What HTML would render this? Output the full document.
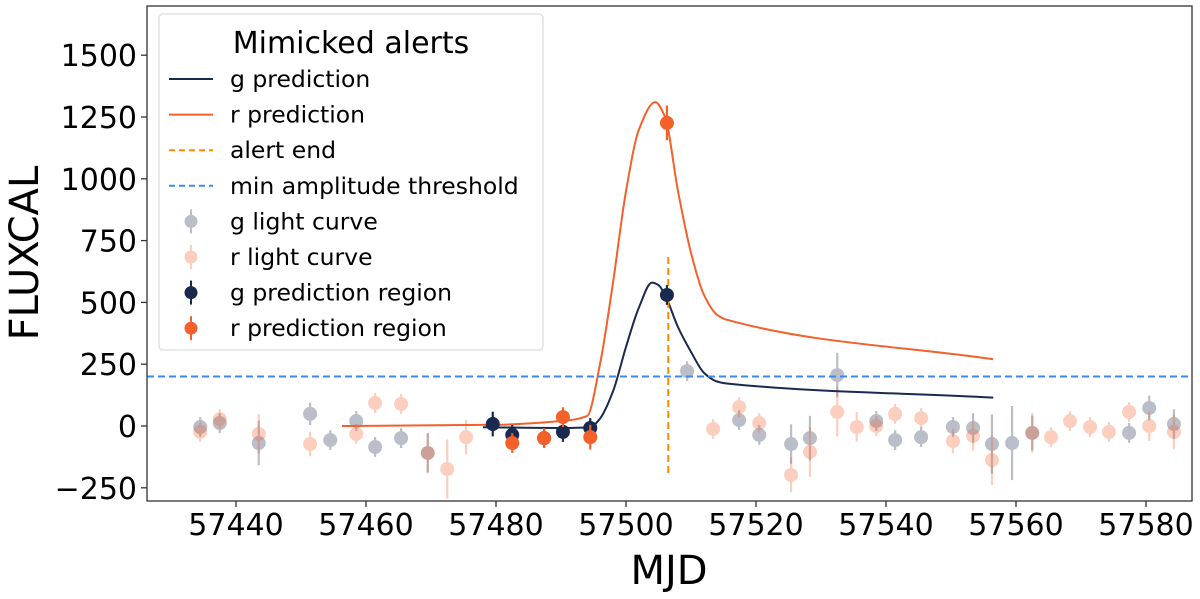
<!DOCTYPE html>
<html><head><meta charset="utf-8"><style>
body{margin:0;background:#fff;}
svg text{font-family:"DejaVu Sans","Liberation Sans",sans-serif;}
</style></head><body>
<svg id="chart" width="1200" height="594" xmlns="http://www.w3.org/2000/svg"></svg>
<script>
const xTicks=[57440,57460,57480,57500,57520,57540,57560,57580];
const yTicks=[-250,0,250,500,750,1000,1250,1500];
const gLcX=[57434.5,57437.5,57443.5,57451.4,57454.5,57458.5,57461.4,57465.4,57469.5,57509.4,57517.4,57520.5,57525.4,57528.3,57532.5,57538.5,57541.4,57545.4,57550.3,57553.4,57556.3,57559.4,57562.5,57577.4,57580.5,57584.3];
const gLcY=[-4,12,-69,49,-57,20,-85,-49,-109,222,24,-36,-73,-49,206,20,-57,-45,-4,-8,-73,-69,-28,-28,73,8];
const gLcE=[40,40,90,45,40,40,40,40,80,40,40,40,80,90,90,40,40,40,40,60,120,150,70,40,50,60];
const rLcX=[57434.5,57437.5,57443.5,57451.4,57458.5,57461.4,57465.4,57469.5,57472.5,57475.4,57513.4,57517.4,57520.5,57525.4,57528.3,57532.5,57535.5,57538.5,57541.4,57545.4,57550.3,57553.4,57556.3,57562.5,57565.4,57568.3,57571.4,57574.3,57577.4,57580.5,57584.3];
const rLcY=[-24,28,-32,-73,-32,93,89,-109,-174,-45,-12,77,12,-198,-105,57,-4,0,49,32,-61,-40,-138,-28,-45,20,-4,-24,57,0,-24];
const rLcE=[40,40,80,50,40,40,40,80,120,70,40,40,40,70,100,100,60,40,40,40,50,60,100,80,40,40,40,40,40,60,70];
const gPrX=[57479.5,57482.5,57487.4,57490.3,57494.5,57506.3];
const gPrY=[8,-36,-49,-24,-8,530];
const gPrE=[50,40,40,40,40,40];
const rPrX=[57482.5,57487.4,57490.3,57494.5,57506.3];
const rPrY=[-69,-49,36,-45,1226];
const rPrE=[40,40,40,50,70];
const rCurveX=[57456.3,57480,57490,57494,57496,57498,57500,57502,57504.5,57506,57508,57510,57512,57514,57515.5,57556.5];
const rCurveY=[0,5,20,40,250,580,950,1200,1310,1250,950,700,530,450,430,270];
const gCurveX=[57478,57490,57494.5,57496,57498,57500,57502,57504,57505,57506,57508,57510,57512,57514,57515.5,57556.5];
const gCurveY=[-5,-8,-5,30,140,320,480,580,570,530,400,300,215,180,172,115];
const threshold=200, alertEnd=57506.5, alertEndRange=[-190,700];

const L=147,R=1192,T=6,B=501;
const X=v=>236+(v-57440)*6.5;
const Y=v=>426-v*0.2472;
const svg=document.getElementById('chart');
const NS='http://www.w3.org/2000/svg';
function el(tag,attrs,parent){const e=document.createElementNS(NS,tag);for(const k in attrs)e.setAttribute(k,attrs[k]);(parent||svg).appendChild(e);return e;}
const G='#1a2a4e', O='#f4602a';

const clip=el('clipPath',{id:'pc'});el('rect',{x:L,y:T,width:R-L,height:B-T},clip);
const plot=el('g',{'clip-path':'url(#pc)'});



function pts(xs,ys,errs,col,op,name){
  for(let i=0;i<xs.length;i++){
    const g=el('g',{opacity:op},plot);
    
    
    const e=errs[i];
    el('line',{x1:X(xs[i]),x2:X(xs[i]),y1:Y(ys[i]-e),y2:Y(ys[i]+e),stroke:col,'stroke-width':2.2},g);
    el('circle',{cx:X(xs[i]),cy:Y(ys[i]),r:7,fill:col},g);
  }
}
pts(gLcX,gLcY,gLcE,G,0.3,'g-light-curve-point');
pts(rLcX,rLcY,rLcE,O,0.3,'r-light-curve-point');

function smooth(xs,ys){
  const n=xs.length, px=xs.map(X), py=ys.map(Y);
  const d=[],m=[];
  for(let i=0;i<n-1;i++)d.push((py[i+1]-py[i])/(px[i+1]-px[i]));
  m[0]=d[0];m[n-1]=d[n-2];
  for(let i=1;i<n-1;i++){
    if(d[i-1]*d[i]<=0)m[i]=0;
    else{const w1=2*(px[i+1]-px[i])+(px[i]-px[i-1]),w2=(px[i+1]-px[i])+2*(px[i]-px[i-1]);m[i]=(w1+w2)/(w1/d[i-1]+w2/d[i]);}
  }
  let s='M'+px[0]+','+py[0];
  for(let i=0;i<n-1;i++){
    const h=(px[i+1]-px[i])/3;
    s+=' C'+(px[i]+h)+','+(py[i]+m[i]*h)+' '+(px[i+1]-h)+','+(py[i+1]-m[i+1]*h)+' '+px[i+1]+','+py[i+1];
  }
  return s;
}
const rc=el('path',{d:smooth(rCurveX,rCurveY),fill:'none',stroke:O,'stroke-width':2},plot);


const gc=el('path',{d:smooth(gCurveX,gCurveY),fill:'none',stroke:G,'stroke-width':2},plot);



const th=el('line',{x1:L,x2:R,y1:Y(threshold),y2:Y(threshold),stroke:'#3a8af0','stroke-width':2,'stroke-dasharray':'7,4'},plot);


const ae=el('line',{x1:X(alertEnd),x2:X(alertEnd),y1:Y(alertEndRange[0]),y2:Y(alertEndRange[1]),stroke:'#ff8c00','stroke-width':2,'stroke-dasharray':'7,4'},plot);



pts(gPrX,gPrY,gPrE,G,1,'g-prediction-region-point');
pts(rPrX,rPrY,rPrE,O,1,'r-prediction-region-point');

const fr=el('rect',{x:L,y:T,width:R-L,height:B-T,fill:'none',stroke:'#333','stroke-width':1.3});


xTicks.forEach(t=>{
  el('line',{x1:X(t),x2:X(t),y1:B,y2:B+6,stroke:'#333','stroke-width':1.3});
  const tx=el('text',{x:X(t),y:B+34,'font-size':30,'text-anchor':'middle',fill:'#000'});
  tx.textContent=t;
  
  
});
yTicks.forEach(t=>{
  el('line',{x1:L-6,x2:L,y1:Y(t),y2:Y(t),stroke:'#333','stroke-width':1.3});
  const tx=el('text',{x:L-10,y:Y(t)+11,'font-size':30,'text-anchor':'end',fill:'#000'});
  tx.textContent=t<0?'\u2212'+(-t):t;
  
  
});
const xl=el('text',{x:669,y:584,'font-size':40,'text-anchor':'middle'});xl.textContent='MJD';


const yl=el('text',{x:0,y:0,'font-size':40,'text-anchor':'middle',transform:'translate(38,253) rotate(-90)'});yl.textContent='FLUXCAL';



const lg=el('g',{});


el('rect',{x:159,y:14,width:384,height:336,rx:4,fill:'#fff','fill-opacity':0.85,stroke:'#ddd','stroke-width':1.3},lg);
const lt=el('text',{x:351,y:53,'font-size':30,'text-anchor':'middle'},lg);lt.textContent='Mimicked alerts';


const entries=[['g prediction','line',G,1],['r prediction','line',O,1],['alert end','dash','#ff8c00',1],['min amplitude threshold','dash','#3a8af0',1],['g light curve','pt',G,0.3],['r light curve','pt',O,0.3],['g  prediction region','pt',G,1],['r  prediction region','pt',O,1]];
entries.forEach((e,i)=>{
  const y=79+i*35.6;
  const g=el('g',{},lg);
  
  
  if(e[1]==='pt'){
    const h=el('g',{opacity:e[3]},g);
    el('line',{x1:191,x2:191,y1:y-12,y2:y+12,stroke:e[2],'stroke-width':2},h);
    el('circle',{cx:191,cy:y,r:6.5,fill:e[2]},h);
  } else {
    el('line',{x1:169,x2:213,y1:y,y2:y,stroke:e[2],'stroke-width':2,'stroke-dasharray':e[1]==='dash'?'6,4':'none'},g);
  }
  const t=el('text',{x:230,y:y+8,'font-size':23.5},g);t.textContent=e[0];
});
</script>
</body></html>
